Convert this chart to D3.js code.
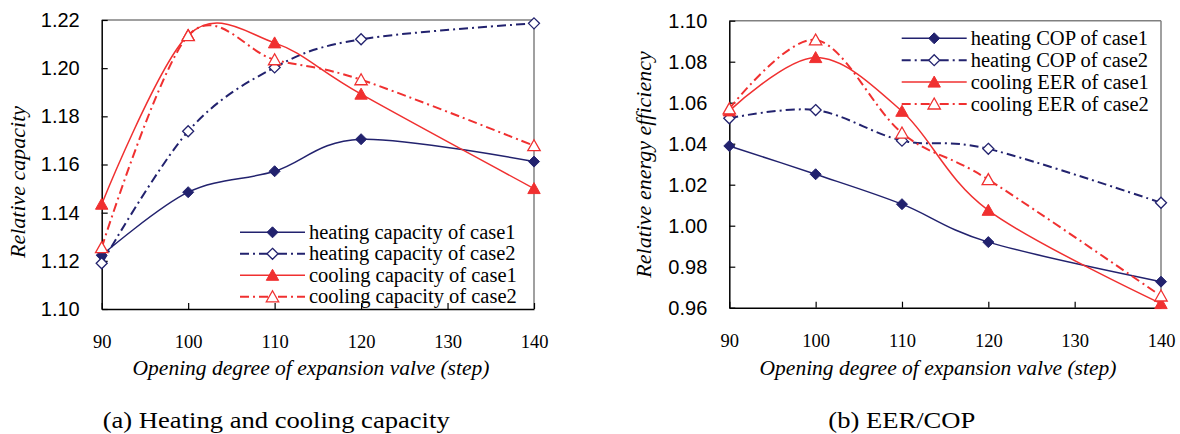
<!DOCTYPE html>
<html>
<head>
<meta charset="utf-8">
<script src="https://cdn.jsdelivr.net/npm/d3@7"></script>
<style>
  body { margin: 0; background: #fff; }
</style>
</head>
<body>
<svg width="1180" height="434"></svg>
<script>
// x values (opening degree, steps) and tick values
var steps = [90, 100, 110, 120, 140];
var stepTicks = [90, 100, 110, 120, 130, 140];
var capTicks = [1.10, 1.12, 1.14, 1.16, 1.18, 1.20, 1.22];
var effTicks = [0.96, 0.98, 1.00, 1.02, 1.04, 1.06, 1.08, 1.10];

// (a) relative capacity
var heatCap1 = [1.1223, 1.1485, 1.1572, 1.1705, 1.1612];
var heatCap2 = [1.1190, 1.1738, 1.2003, 1.2120, 1.2186];
var coolCap1 = [1.1435, 1.2137, 1.2105, 1.1892, 1.1500];
var coolCap2 = [1.1255, 1.2135, 1.2035, 1.1952, 1.1678];
var capNames = ['heating capacity of case1', 'heating capacity of case2',
                'cooling capacity of case1', 'cooling capacity of case2'];

// (b) relative energy efficiency
var heatCop1 = [1.0389, 1.0251, 1.0105, 0.9920, 0.9727];
var heatCop2 = [1.0524, 1.0564, 1.0415, 1.0375, 1.0112];
var coolEer1 = [1.0560, 1.0820, 1.0558, 1.0075, 0.9620];
var coolEer2 = [1.0570, 1.0906, 1.0452, 1.0225, 0.9657];
var effNames = ['heating COP of case1', 'heating COP of case2',
                'cooling EER of case1', 'cooling EER of case2'];

var navy = '#22226e';
var red = '#f03030';
var serif = '"Liberation Serif", "Times New Roman", serif';
var sans = '"Liberation Sans", Arial, sans-serif';

// style per series position: heating1, heating2, cooling1, cooling2
var styles = [
    { color: navy, dash: null, width: 1.5, shape: 'diamond', open: false },
    { color: navy, dash: '9,4,2,4', width: 2, shape: 'diamond', open: true },
    { color: red, dash: null, width: 1.5, shape: 'triangle', open: false },
    { color: red, dash: '9,4,2,4', width: 2, shape: 'triangle', open: true }
];

var svg = d3.select('svg');

function markerPath(shape) {
    if (shape === 'diamond') return 'M0,-5.5L5.5,0L0,5.5L-5.5,0Z';
    return 'M0,-6L6.2,5L-6.2,5Z';
}

function drawMarker(g, s, x, y) {
    g.append('path')
        .attr('d', markerPath(s.shape))
        .attr('transform', 'translate(' + x + ',' + y + ')')
        .attr('fill', s.open ? '#fff' : s.color)
        .attr('stroke', s.color)
        .attr('stroke-width', s.open ? 1.3 : 1);
}

function drawChart(cfg) {
    var g = svg.append('g');
    var x = d3.scaleLinear().domain([90, 140]).range([cfg.x0, cfg.x1]);
    var y = d3.scaleLinear().domain(cfg.yDomain).range([cfg.y0, cfg.y1]);

    // top / right frame
    g.append('line').attr('x1', cfg.x0).attr('x2', cfg.x1).attr('y1', cfg.y1).attr('y2', cfg.y1)
        .attr('stroke', '#808080').attr('stroke-width', 1.5);
    g.append('line').attr('x1', cfg.x1).attr('x2', cfg.x1).attr('y1', cfg.y1).attr('y2', cfg.y0)
        .attr('stroke', '#808080').attr('stroke-width', 1.5);

    var xAxis = g.append('g')
        .attr('transform', 'translate(0,' + cfg.y0 + ')')
        .call(d3.axisBottom(x).tickValues(stepTicks).tickSizeInner(-6).tickSizeOuter(0).tickPadding(26));
    xAxis.attr('font-family', serif).attr('font-size', 18.5);

    var yAxis = g.append('g')
        .attr('transform', 'translate(' + cfg.x0 + ',0)')
        .call(d3.axisLeft(y).tickValues(cfg.yTicks).tickFormat(d3.format('.2f'))
            .tickSizeInner(-6).tickSizeOuter(0).tickPadding(22));
    yAxis.attr('font-family', sans).attr('font-size', 20);

    [xAxis, yAxis].forEach(function (a) {
        a.select('.domain').attr('stroke', '#000').attr('stroke-width', 1.5);
        a.selectAll('.tick line').attr('stroke', '#000').attr('stroke-width', 1.2);
        a.selectAll('.tick text').attr('fill', '#000');
    });

    var line = d3.line()
        .x(function (d, i) { return x(steps[i]); })
        .y(function (d) { return y(d); })
        .curve(d3.curveCardinal.tension(0));

    cfg.series.forEach(function (vals, k) {
        var s = styles[k];
        g.append('path')
            .attr('d', line(vals))
            .attr('fill', 'none')
            .attr('stroke', s.color)
            .attr('stroke-width', s.width)
            .attr('stroke-dasharray', s.dash);
    });
    cfg.series.forEach(function (vals, k) {
        vals.forEach(function (v, i) { drawMarker(g, styles[k], x(steps[i]), y(v)); });
    });

    // legend
    cfg.names.forEach(function (name, k) {
        var s = styles[k];
        var ly = cfg.legY + k * cfg.legStep;
        g.append('line')
            .attr('x1', cfg.legX).attr('x2', cfg.legX + 65).attr('y1', ly).attr('y2', ly)
            .attr('stroke', s.color).attr('stroke-width', s.width).attr('stroke-dasharray', s.dash);
        drawMarker(g, s, cfg.legX + 32.5, ly);
        g.append('text')
            .attr('x', cfg.legX + 69).attr('y', ly + 6.5)
            .attr('font-family', serif).attr('font-size', 20.5)
            .text(name);
    });

    // axis titles
    g.append('text')
        .attr('x', cfg.xTitleX).attr('y', 375)
        .attr('text-anchor', 'middle')
        .attr('font-family', serif).attr('font-size', 21.5).attr('font-style', 'italic')
        .text('Opening degree of expansion valve (step)');
    g.append('text')
        .attr('transform', 'translate(' + cfg.yTitleX + ',' + cfg.yTitleY + ') rotate(-90)')
        .attr('text-anchor', 'middle')
        .attr('font-family', serif).attr('font-size', 22).attr('font-style', 'italic')
        .text(cfg.yTitle);

    // caption
    var cap = g.append('text')
        .attr('x', cfg.capX).attr('y', 428)
        .attr('font-family', serif).attr('font-size', 23)
        .text(cfg.caption);
    cap.attr('textLength', cfg.capW).attr('lengthAdjust', 'spacingAndGlyphs');
}

drawChart({
    x0: 101.7, x1: 534, y0: 309, y1: 20,
    yDomain: [1.10, 1.22], yTicks: capTicks,
    series: [heatCap1, heatCap2, coolCap1, coolCap2], names: capNames,
    legX: 240, legY: 232.3, legStep: 21.5,
    xTitleX: 311, yTitle: 'Relative capacity', yTitleX: 25, yTitleY: 182,
    caption: '(a) Heating and cooling capacity', capX: 102.7, capW: 347
});

drawChart({
    x0: 729.3, x1: 1161, y0: 307.7, y1: 20.7,
    yDomain: [0.96, 1.10], yTicks: effTicks,
    series: [heatCop1, heatCop2, coolEer1, coolEer2], names: effNames,
    legX: 901.7, legY: 38.3, legStep: 21.9,
    xTitleX: 938, yTitle: 'Relative energy efficiency', yTitleX: 651, yTitleY: 164.5,
    caption: '(b) EER/COP', capX: 828.3, capW: 147
});
</script>
</body>
</html>
